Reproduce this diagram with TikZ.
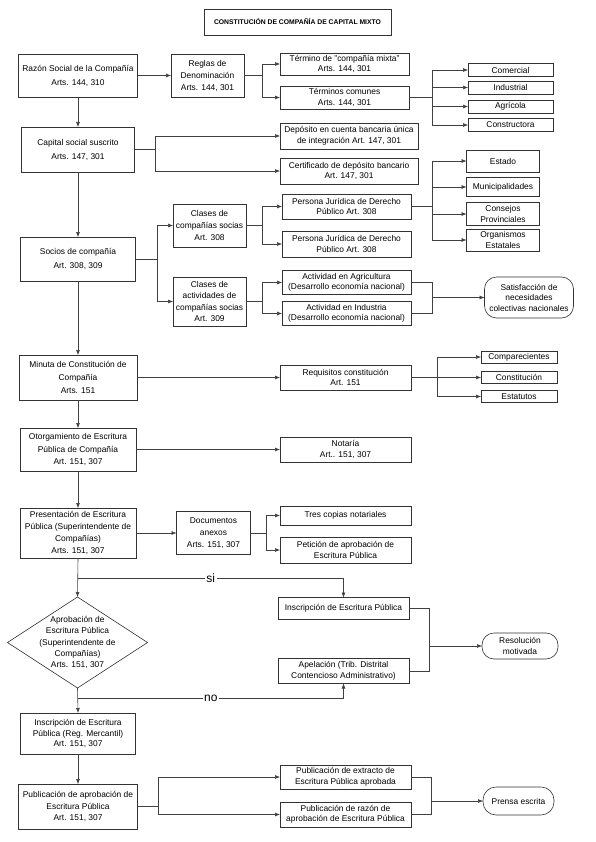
\documentclass[tikz,border=0pt]{standalone}
\usepackage{fontspec}
\setmainfont{Liberation Sans}
\usetikzlibrary{arrows.meta,shapes.geometric}
\begin{document}
\begin{tikzpicture}[x=1pt,y=-1pt,
  every node/.style={outer sep=0pt},
  sz/.style 2 args={minimum width=#1pt,minimum height=#2pt},
  box/.style={draw=black!80, line width=0.6pt, align=center, inner sep=1pt, text=black, font=\fontsize{8.4}{12}\selectfont},
  tallbox/.style={box, font=\fontsize{8.4}{14}\selectfont},
  smallbox/.style={box, font=\fontsize{8.4}{10.5}\selectfont},
  roundbox/.style={box, rounded corners=12pt},
  line/.style={draw=black!75, line width=0.6pt},
  arr/.style={line, -{Latex[length=5pt,width=4pt]}},
  lbl/.style={fill=white, inner sep=1.5pt, text=black, font=\fontsize{12}{12}\selectfont},
]
\fill[white] (0,0) rectangle (595,842);
\useasboundingbox (0,0) rectangle (595,842);

% title
\node[box, sz={187}{26}, font=\fontsize{6.8}{8}\selectfont\bfseries] (title) at (297.5,22) {CONSTITUCIÓN DE COMPAÑÍA DE CAPITAL MIXTO};

% row 1
\node[tallbox, sz={119}{43}] (razon) at (78,75.5) {Razón Social de la Compañía\\Arts. 144, 310};
\node[box, sz={73}{43}] (reglas) at (207.5,75.5) {Reglas de\\Denominación\\Arts. 144, 301};
\node[smallbox, sz={129}{22}] (termino) at (344.5,64) {Término de "compañía mixta"\\Arts. 144, 301};
\node[smallbox, sz={129}{23}] (comunes) at (344.5,97.5) {Términos comunes\\Arts. 144, 301};
\node[box, sz={85}{13}] (comercial) at (510.5,70) {Comercial};
\node[box, sz={85}{13}] (industrial) at (510.5,87.5) {Industrial};
\node[box, sz={85}{13}] (agricola) at (510.5,106.5) {Agrícola};
\node[box, sz={85}{13}] (constructora) at (510.5,125) {Constructora};

% row 2
\node[tallbox, sz={113}{45}] (capital) at (78,149.5) {Capital social suscrito\\Arts. 147, 301};
\node[smallbox, sz={138}{26}] (deposito) at (349,136) {Depósito en cuenta bancaria única\\de integración Art. 147, 301};
\node[smallbox, sz={138}{26}] (certificado) at (349,171) {Certificado de depósito bancario\\Art. 147, 301};

% row 3
\node[box, sz={73}{22}] (estado) at (503,161) {Estado};
\node[box, sz={73}{19}] (municipal) at (503,187) {Municipalidades};
\node[smallbox, sz={73}{23}] (consejos) at (503,214) {Consejos\\Provinciales};
\node[smallbox, sz={73}{22}] (organismos) at (503,240) {Organismos\\Estatales};
\node[smallbox, sz={129}{25}] (persona1) at (346.5,206.5) {Persona Jurídica de Derecho\\Público Art. 308};
\node[smallbox, sz={129}{26}] (persona2) at (346.5,244) {Persona Jurídica de Derecho\\Público Art. 308};
\node[box, sz={73}{43}] (clases1) at (209.5,225.5) {Clases de\\compañías socias\\Art. 308};
\node[box, sz={73}{49}, font=\fontsize{8.4}{11.5}\selectfont] (clases2) at (209.5,301.5) {Clases de\\actividades de\\compañías socias\\Art. 309};
\node[tallbox, sz={115}{44}] (socios) at (78,259) {Socios de compañía\\Art. 308, 309};
\node[smallbox, sz={129}{24}] (agri) at (346.5,282.5) {Actividad en Agricultura\\(Desarrollo economía nacional)};
\node[smallbox, sz={129}{24}] (indu) at (346.5,313.5) {Actividad en Industria\\(Desarrollo economía nacional)};
\node[roundbox, sz={89}{41}, font=\fontsize{8.4}{10.5}\selectfont] (satisf) at (529,297.5) {Satisfacción de\\necesidades\\colectivas nacionales};

% row 4
\node[box, sz={118}{45}, font=\fontsize{8.4}{13}\selectfont] (minuta) at (78,377.5) {Minuta de Constitución de\\Compañía\\Arts. 151};
\node[smallbox, sz={131}{25}] (requisitos) at (345.5,377.5) {Requisitos constitución\\Art. 151};
\node[box, sz={76}{12}] (comparecientes) at (519,357) {Comparecientes};
\node[box, sz={76}{12}] (constitucion) at (519,377.5) {Constitución};
\node[box, sz={76}{12}] (estatutos) at (519,396.5) {Estatutos};

% row 5
\node[box, sz={116}{43}, font=\fontsize{8.4}{12.5}\selectfont] (otorg) at (78,449.5) {Otorgamiento de Escritura\\Pública de Compañía\\Art. 151, 307};
\node[smallbox, sz={131}{25}] (notaria) at (345.5,449.5) {Notaría\\Art.. 151, 307};

% row 6
\node[box, sz={116}{50}] (pres) at (78,533) {Presentación de Escritura\\Pública (Superintendente de\\Compañías)\\Arts. 151, 307};
\node[box, sz={74}{43}] (docs) at (213.5,533) {Documentos\\anexos\\Arts. 151, 307};
\node[box, sz={131}{19}] (tres) at (345.5,515.5) {Tres copias notariales};
\node[smallbox, sz={131}{26}] (peticion) at (345.5,550) {Petición de aprobación de\\Escritura Pública};

% decision
\node[draw=black!80, line width=0.6pt, diamond, sz={140}{91}, inner sep=0pt] (dia) at (77.5,642.5) {};
\node[align=center, inner sep=0pt, font=\fontsize{8.4}{11.3}\selectfont] (diatext) at (dia.center) {Aprobación de\\Escritura Pública\\(Superintendente de\\Compañías)\\Arts. 151, 307};
\node[box, sz={131}{22}] (inscep) at (343.5,608.5) {Inscripción de Escritura Pública};
\node[smallbox, sz={131}{25}] (apel) at (343.5,671) {Apelación (Trib. Distrital\\Contencioso Administrativo)};
\node[roundbox, sz={76}{26}, font=\fontsize{8.4}{10.5}\selectfont] (resol) at (520,646) {Resolución\\motivada};

% final rows
\node[smallbox, sz={115}{41}] (inscreg) at (78,733.5) {Inscripción de Escritura\\Pública (Reg. Mercantil)\\Art. 151, 307};
\node[box, sz={119}{45}, font=\fontsize{8.4}{11.5}\selectfont] (publ) at (78,806.5) {Publicación de aprobación de\\Escritura Pública\\Art. 151, 307};
\node[smallbox, sz={131}{24}] (extracto) at (345.5,777) {Publicación de extracto de\\Escritura Pública aprobada};
\node[smallbox, sz={131}{25}] (razonpub) at (345.5,814.5) {Publicación de razón de\\aprobación de Escritura Pública};
\node[roundbox, sz={71}{28}, rounded corners=13pt] (prensa) at (518.5,801) {Prensa escrita};

% fork / merge points
\coordinate (freglas) at (262,75.5);
\coordinate (fcomunes) at (432,97.5);
\coordinate (fcapital) at (155,149.5);
\coordinate (fsocios) at (157,259);
\coordinate (fclases1) at (262,225.5);
\coordinate (fpersona) at (432,206.5);
\coordinate (fclases2) at (262,301.5);
\coordinate (msatisf) at (432,297.5);
\coordinate (freq) at (437,377.5);
\coordinate (fdocs) at (266,533);
\coordinate (sij) at (78,578);
\coordinate (noj) at (78,698);
\coordinate (mresol) at (429,646);
\coordinate (fpubl) at (158,806.5);
\coordinate (mprensa) at (431,801);

% main column
\draw[arr] (razon.south) -- (capital.north);
\draw[arr] (capital.south) -- (socios.north);
\draw[arr] (socios.south) -- (minuta.north);
\draw[arr] (minuta.south) -- (otorg.north);
\draw[arr] (otorg.south) -- (pres.north);
\draw[arr] (pres.south) -- (dia.north);
\draw[arr] (dia.south) -- (inscreg.north);
\draw[arr] (inscreg.south) -- (publ.north);

% row 1
\draw[arr] (razon.east) -- (reglas.west);
\draw[line] (reglas.east) -- (freglas);
\draw[arr] (freglas) |- (termino.west);
\draw[arr] (freglas) |- (comunes.west);
\draw[line] (comunes.east) -- (fcomunes);
\draw[arr] (fcomunes) |- (comercial.west);
\draw[arr] (fcomunes) |- (industrial.west);
\draw[arr] (fcomunes) |- (agricola.west);
\draw[arr] (fcomunes) |- (constructora.west);

% row 2
\draw[line] (capital.east) -- (fcapital);
\draw[arr] (fcapital) |- (deposito.west);
\draw[arr] (fcapital) |- (certificado.west);

% row 3
\draw[line] (socios.east) -- (fsocios);
\draw[arr] (fsocios) |- (clases1.west);
\draw[arr] (fsocios) |- (clases2.west);
\draw[line] (clases1.east) -- (fclases1);
\draw[arr] (fclases1) |- (persona1.west);
\draw[arr] (fclases1) |- (persona2.west);
\draw[line] (persona1.east) -- (fpersona);
\draw[arr] (fpersona) |- (estado.west);
\draw[arr] (fpersona) |- (municipal.west);
\draw[arr] (fpersona) |- (consejos.west);
\draw[arr] (fpersona) |- (organismos.west);
\draw[line] (clases2.east) -- (fclases2);
\draw[arr] (fclases2) |- (agri.west);
\draw[arr] (fclases2) |- (indu.west);
\draw[line] (agri.east) -| (msatisf);
\draw[line] (indu.east) -| (msatisf);
\draw[arr] (msatisf) -- (satisf.west);

% row 4
\draw[arr] (minuta.east) -- (requisitos.west);
\draw[line] (requisitos.east) -- (freq);
\draw[arr] (freq) |- (comparecientes.west);
\draw[arr] (freq) |- (constitucion.west);
\draw[arr] (freq) |- (estatutos.west);

% row 5, 6
\draw[arr] (otorg.east) -- (notaria.west);
\draw[arr] (pres.east) -- (docs.west);
\draw[line] (docs.east) -- (fdocs);
\draw[arr] (fdocs) |- (tres.west);
\draw[arr] (fdocs) |- (peticion.west);

% decision branches
\draw[arr] (sij) -| node[lbl, pos=0.25] (silbl) {si} (inscep.north);
\draw[arr] (noj) -| node[lbl, pos=0.25] (nolbl) {no} (apel.south);
\draw[line] (inscep.east) -| (mresol);
\draw[line] (apel.east) -| (mresol);
\draw[arr] (mresol) -- (resol.west);

% publication
\draw[line] (publ.east) -- (fpubl);
\draw[arr] (fpubl) |- (extracto.west);
\draw[arr] (fpubl) |- (razonpub.west);
\draw[line] (extracto.east) -| (mprensa);
\draw[line] (razonpub.east) -| (mprensa);
\draw[arr] (mprensa) -- (prensa.west);
\end{tikzpicture}
\end{document}
